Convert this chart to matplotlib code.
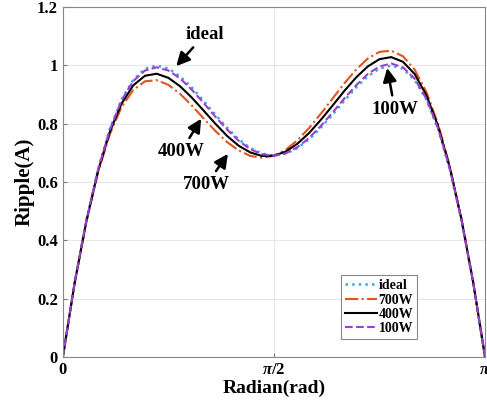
import numpy as np
import matplotlib
matplotlib.use("Agg")
from matplotlib import pyplot as plt

# angle samples (degrees), 0..180 every 5
angle_deg = list(range(0, 181, 5))

# ripple values
ideal = [0, 0.253, 0.467, 0.643, 0.781, 0.882, 0.950, 0.988, 0.999, 0.989,
         0.962, 0.924, 0.878, 0.831, 0.786, 0.746, 0.716, 0.697, 0.690,
         0.697, 0.716, 0.746, 0.786, 0.831, 0.878, 0.924, 0.962, 0.989,
         0.999, 0.988, 0.950, 0.882, 0.781, 0.643, 0.467, 0.253, 0]
w700 = [0, 0.252, 0.462, 0.632, 0.763, 0.856, 0.915, 0.945, 0.949, 0.933,
        0.902, 0.862, 0.818, 0.775, 0.737, 0.708, 0.689, 0.683, 0.690,
        0.710, 0.743, 0.785, 0.834, 0.886, 0.938, 0.985, 1.023, 1.046,
        1.050, 1.031, 0.985, 0.908, 0.798, 0.653, 0.472, 0.254, 0]
w400 = [0, 0.252, 0.464, 0.637, 0.771, 0.868, 0.931, 0.964, 0.971, 0.957,
        0.928, 0.889, 0.845, 0.800, 0.758, 0.724, 0.701, 0.689, 0.690,
        0.704, 0.731, 0.768, 0.813, 0.862, 0.912, 0.958, 0.996, 1.021,
        1.028, 1.012, 0.970, 0.897, 0.791, 0.649, 0.470, 0.253, 0]
w100 = [0, 0.253, 0.467, 0.642, 0.778, 0.879, 0.946, 0.982, 0.993, 0.982,
        0.955, 0.916, 0.871, 0.824, 0.780, 0.741, 0.712, 0.695, 0.690,
        0.698, 0.719, 0.751, 0.792, 0.838, 0.886, 0.931, 0.970, 0.996,
        1.006, 0.993, 0.954, 0.885, 0.783, 0.644, 0.468, 0.253, 0]

x_ticks = [0, np.pi / 2, np.pi]
x_tick_labels = ["0", r"$\pi$/2", r"$\pi$"]
y_ticks = [0, 0.2, 0.4, 0.6, 0.8, 1.0, 1.2]
y_tick_labels = ["0", "0.2", "0.4", "0.6", "0.8", "1", "1.2"]

plt.rcParams["font.family"] = "Liberation Serif"
plt.rcParams["font.weight"] = "bold"
plt.rcParams["mathtext.fontset"] = "custom"
plt.rcParams["mathtext.it"] = "Liberation Serif:italic"
plt.rcParams["mathtext.rm"] = "Liberation Serif"

fig = plt.figure(figsize=(4.87, 4.08), dpi=100)
ax = fig.add_axes([0.129, 0.125, 0.867, 0.858])

x = np.deg2rad(angle_deg)
ax.plot(x, ideal, linestyle=":", color="#3fa7e0", lw=1.8, label="ideal")
ax.plot(x, w700, linestyle="-.", color="#e2531d", lw=1.5, label="700W")
ax.plot(x, w400, linestyle="-", color="black", lw=1.5, label="400W")
ax.plot(x, w100, linestyle="--", color="#9b3fd0", lw=1.5, label="100W")

ax.set_xlim(0, np.pi)
ax.set_ylim(0, 1.2)
ax.set_xticks(x_ticks)
ax.set_xticklabels(x_tick_labels)
ax.set_yticks(y_ticks)
ax.set_yticklabels(y_tick_labels)
ax.tick_params(direction="in", length=3, labelsize=12, color="#777777")
ax.grid(True, color="#e6e6e6", lw=0.8)
for s in ax.spines.values():
    s.set_color("#888888")

ax.set_xlabel("Radian(rad)", fontsize=14, fontweight="bold", labelpad=1)
ax.set_ylabel("Ripple(A)", fontsize=15, fontweight="bold", labelpad=2)

# arrows with labels
arrow = dict(arrowstyle="-|>,head_length=0.6,head_width=0.3", color="black", lw=1.8)
ax.annotate("ideal", xy=(0.83, 0.99), xytext=(1.06, 1.107), ha="center", va="center",
            fontsize=13.5, fontweight="bold", arrowprops=arrow)
ax.annotate("400W", xy=(1.04, 0.825), xytext=(0.88, 0.704), ha="center", va="center",
            fontsize=13.5, fontweight="bold", arrowprops=arrow)
ax.annotate("700W", xy=(1.24, 0.704), xytext=(1.07, 0.591), ha="center", va="center",
            fontsize=13.5, fontweight="bold", arrowprops=arrow)
ax.annotate("100W", xy=(2.41, 1.0), xytext=(2.47, 0.849), ha="center", va="center",
            fontsize=13.5, fontweight="bold", arrowprops=arrow)

leg = ax.legend(loc="lower right", bbox_to_anchor=(0.84, 0.05), fontsize=10,
                handlelength=2.3, handletextpad=0.1, labelspacing=0.1,
                borderpad=0.3, borderaxespad=0, fancybox=False, framealpha=1)
leg.get_frame().set_edgecolor("#888888")
leg.get_frame().set_linewidth(0.8)

fig.savefig("out.png", dpi=100)
